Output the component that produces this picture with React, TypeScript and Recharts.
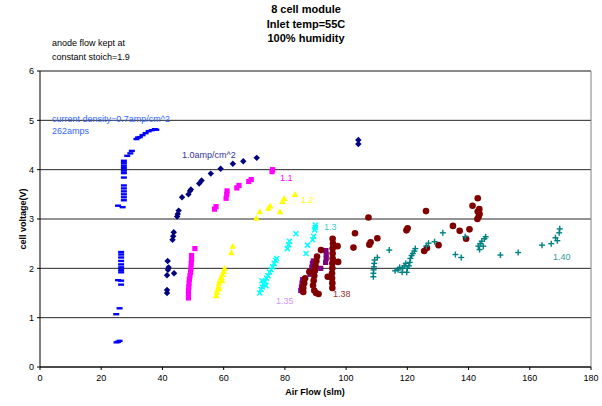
import { ScatterChart, Scatter, XAxis, YAxis, CartesianGrid, ReferenceLine } from 'recharts';

type P = [number, number];

const airFlowTicks = [0, 20, 40, 60, 80, 100, 120, 140, 160, 180];
const voltTicks = [0, 1, 2, 3, 4, 5, 6];

// current density 0.7 amp/cm^2 (262 amps)
const cd070: P[] = [
  [25, 0.5], [25.5, 0.51], [26, 0.53], [24.9, 1.07], [26, 1.19], [25.5, 1.76], [26.5, 1.75], [26.5, 1.67],
  [26.5, 1.92], [26.5, 1.97], [26.5, 2.02], [26.5, 2.08], [26.5, 2.15], [26.5, 2.22], [26.5, 2.28], [26.5, 2.33],
  [25.5, 3.27], [27, 3.24], [27.4, 3.38], [27.4, 3.44], [27.4, 3.5], [27.4, 3.56], [27.4, 3.62], [27.4, 3.68],
  [27.4, 3.84], [27.4, 3.93], [27.4, 3.98], [27.4, 4.03], [27.4, 4.08], [27.4, 4.13], [27.4, 4.18],
  [28.5, 4.28], [29.5, 4.33], [30, 4.38], [31.5, 4.62], [32, 4.65], [32.6, 4.66], [33.5, 4.7], [34.5, 4.74],
  [35.5, 4.78], [36.5, 4.8], [37.5, 4.82], [38, 4.81],
];

const cd100: P[] = [
  [41.5, 1.5], [41.5, 1.56], [41.7, 2.15], [42, 2.02], [41.8, 1.97], [41.5, 1.86], [43.8, 1.9],
  [43.3, 2.58], [43.5, 2.65], [43.7, 2.73], [44.8, 3.05], [45, 3.1], [45.3, 3.17], [46.4, 3.44],
  [48.5, 3.5], [49, 3.57], [49.3, 3.6], [52, 3.72], [52.8, 3.78], [55.8, 3.92], [59, 4.02], [63, 4.12],
  [66.4, 4.17], [70.8, 4.24], [104, 4.52], [104, 4.6],
];

const cd110: P[] = [
  [50.6, 2.4], [49.5, 2.26], [49.5, 2.18], [49.4, 2.1], [49.3, 2.0], [49.2, 1.92], [49, 1.85], [48.8, 1.78],
  [48.7, 1.7], [48.6, 1.62], [48.5, 1.55], [48.5, 1.47], [48.5, 1.4], [57, 3.2], [57.5, 3.25],
  [60.8, 3.42], [61, 3.5], [61.1, 3.57], [64.3, 3.63], [65, 3.68], [68.2, 3.76], [69, 3.8], [75.8, 3.96], [76, 4.0],
];

const cd120: P[] = [
  [57.6, 1.45], [57.8, 1.52], [58, 1.58], [58.3, 1.64], [58.5, 1.7], [58.8, 1.76], [59.2, 1.82], [59.6, 1.88],
  [60, 1.94], [60.3, 2.0], [58.5, 1.6], [59.5, 1.75], [62.5, 2.32], [63, 2.45], [70.7, 3.02], [71.8, 3.15],
  [74.6, 3.22], [75.2, 3.27], [78.4, 3.15], [79.2, 3.36], [79.8, 3.42], [83.3, 3.5],
];

const cd130: P[] = [
  [71.8, 1.5], [72.2, 1.57], [72.6, 1.62], [73, 1.68], [73.5, 1.73], [74, 1.8], [74.5, 1.85], [75, 1.92],
  [75.5, 1.97], [76, 2.03], [76.5, 2.1], [77, 2.16], [77.3, 2.2], [72.5, 1.75], [73.8, 1.65],
  [80.8, 2.4], [81.2, 2.48], [81.5, 2.55], [83.6, 2.7], [86.9, 2.3], [87.4, 2.47], [89.1, 2.58], [89.4, 2.65],
  [89.7, 2.78], [89.9, 2.83], [90, 2.88],
];

const cd135: P[] = [
  [85.2, 1.55], [85.4, 1.62], [85.6, 1.7], [85.8, 1.77], [88.2, 1.88], [88.5, 1.95], [88.8, 2.02], [89, 2.1],
  [89.3, 2.15], [93.3, 2.12], [93.5, 2.2], [93.5, 2.28], [93.4, 2.36], [91.7, 2.0],
];

const cd138: P[] = [
  [86, 1.52], [86, 1.6], [86.3, 1.7], [86.6, 1.8], [88, 1.93], [91, 1.48], [90.2, 1.5], [89.6, 1.55],
  [89.2, 1.65], [89.4, 1.75], [89.6, 1.85], [89.8, 1.95], [90, 2.05], [90.3, 2.15], [90.5, 2.24], [91.8, 2.37],
  [94, 1.83], [95.5, 1.6], [95.5, 1.7], [95.4, 1.8], [95.4, 1.9], [95.5, 2.0], [95.5, 2.1], [95.6, 2.2],
  [95.6, 2.3], [95.6, 2.4], [95.7, 2.5], [95.6, 2.6], [97.2, 2.45], [97.4, 2.13], [102.9, 2.71], [102.4, 2.42],
  [107.3, 3.03], [107.6, 2.48], [108, 2.53], [110.2, 2.61], [119.7, 2.77], [120.1, 2.81], [126.1, 3.16],
  [125.5, 2.35], [126.4, 2.41], [130.2, 2.47], [134.9, 2.86], [137.1, 2.76], [140.3, 2.79], [139.2, 2.6],
  [141.3, 3.27], [143, 3.42], [142.9, 3.0], [143.3, 3.05], [143.6, 3.1], [143, 3.15], [143.5, 3.2],
];

const cd140: P[] = [
  [108.9, 1.83], [108.9, 1.9], [109, 1.97], [109.1, 2.03], [109.2, 2.1], [109.3, 2.17], [110.2, 2.22],
  [114.1, 2.37], [116, 1.95], [117, 1.97], [117.5, 2.02], [118.5, 2.0], [119, 2.05], [119.5, 2.1], [120, 2.0],
  [120.5, 2.05], [120.8, 2.12], [121, 2.2], [121.4, 2.26], [121.8, 2.3], [122.3, 2.35], [122.6, 2.4],
  [119.8, 1.92], [118.3, 1.92], [126.2, 2.45], [126.9, 2.51], [128.9, 2.54], [131.6, 2.72], [135.7, 2.28],
  [137.6, 2.22], [138.9, 2.64], [143.2, 2.45], [143.8, 2.5], [144.3, 2.55], [144.8, 2.45], [145.2, 2.6],
  [145.6, 2.64], [143.6, 2.38], [150.4, 2.27], [156.2, 2.32], [164, 2.47], [167, 2.5], [168.4, 2.62],
  [169, 2.56], [169.6, 2.72], [169.8, 2.8],
];

const toPts = (a: P[]) => a.map(([x, y]) => ({ x, y }));

const font = '"Liberation Sans", Arial, sans-serif';

const Dash = (p: any) => <rect x={p.cx - 3} y={p.cy - 1.2} width={6} height={2.4} fill="#0000FF" />;
const Diamond = (p: any) => (
  <polygon points={`${p.cx},${p.cy - 3.2} ${p.cx + 3.2},${p.cy} ${p.cx},${p.cy + 3.2} ${p.cx - 3.2},${p.cy}`} fill="#000080" />
);
const squareOf = (color: string) => (p: any) => (
  <rect x={p.cx - 2.6} y={p.cy - 2.6} width={5.2} height={5.2} fill={color} />
);
const Triangle = (p: any) => (
  <polygon points={`${p.cx},${p.cy - 3.3} ${p.cx + 3.3},${p.cy + 2.7} ${p.cx - 3.3},${p.cy + 2.7}`} fill="#FFFF00" />
);
const Cross = (p: any) => (
  <g stroke="#00FFFF" strokeWidth={1.5}>
    <line x1={p.cx - 2.5} y1={p.cy - 2.5} x2={p.cx + 2.5} y2={p.cy + 2.5} />
    <line x1={p.cx - 2.5} y1={p.cy + 2.5} x2={p.cx + 2.5} y2={p.cy - 2.5} />
  </g>
);
const Dot = (p: any) => <circle cx={p.cx} cy={p.cy} r={3.3} fill="#800000" />;
const Plus = (p: any) => (
  <g stroke="#008080" strokeWidth={1.4}>
    <line x1={p.cx - 3} y1={p.cy} x2={p.cx + 3} y2={p.cy} />
    <line x1={p.cx} y1={p.cy - 3} x2={p.cx} y2={p.cy + 3} />
  </g>
);

const seriesLabels = [
  { text: 'current density=0.7amp/cm^2', x: 52, y: 114, color: '#3366FF' },
  { text: '262amps', x: 52, y: 126, color: '#3366FF' },
  { text: '1.0amp/cm^2', x: 182, y: 150, color: '#333399' },
  { text: '1.1', x: 280, y: 173, color: '#FF00FF' },
  { text: '1.2', x: 301, y: 195, color: '#FFFF00' },
  { text: '1.3', x: 324, y: 222, color: '#33CCCC' },
  { text: '1.35', x: 276, y: 296, color: '#CC99FF' },
  { text: '1.38', x: 333, y: 289, color: '#993333' },
  { text: '1.40', x: 553, y: 252, color: '#339999' },
];

export default function App() {
  return (
    <div style={{ position: 'absolute', left: 0, top: 0, width: 602, height: 406, background: '#fff', fontFamily: font }}>
      <ScatterChart width={602} height={406} margin={{ top: 71, right: 11, left: 0, bottom: 0 }}>
        <CartesianGrid vertical={false} stroke="#000" strokeOpacity={0.85} />
        <XAxis
          type="number"
          dataKey="x"
          domain={[0, 180]}
          ticks={airFlowTicks}
          height={39}
          tickSize={3}
          tickMargin={5}
          stroke="#000"
          tick={{ fontSize: 9, fill: '#000', fontFamily: font }}
          interval={0}
        />
        <YAxis
          type="number"
          dataKey="y"
          domain={[0, 6]}
          ticks={voltTicks}
          width={40}
          tickSize={3}
          tickMargin={3}
          stroke="#000"
          tick={{ fontSize: 9, fill: '#000', fontFamily: font }}
          interval={0}
        />
        <ReferenceLine y={6} stroke="#808080" />
        <ReferenceLine x={180} stroke="#808080" />
        <Scatter data={toPts(cd070)} shape={Dash} isAnimationActive={false} />
        <Scatter data={toPts(cd100)} shape={Diamond} isAnimationActive={false} />
        <Scatter data={toPts(cd110)} shape={squareOf('#FF00FF')} isAnimationActive={false} />
        <Scatter data={toPts(cd120)} shape={Triangle} isAnimationActive={false} />
        <Scatter data={toPts(cd130)} shape={Cross} isAnimationActive={false} />
        <Scatter data={toPts(cd135)} shape={squareOf('#800080')} isAnimationActive={false} />
        <Scatter data={toPts(cd138)} shape={Dot} isAnimationActive={false} />
        <Scatter data={toPts(cd140)} shape={Plus} isAnimationActive={false} />
      </ScatterChart>

      {/* title */}
      <div style={{ position: 'absolute', left: 206, width: 200, top: 2, textAlign: 'center', fontSize: 11, fontWeight: 'bold', lineHeight: '14.5px' }}>
        <div>8 cell module</div>
        <div>Inlet temp=55C</div>
        <div>100% humidity</div>
      </div>
      <div style={{ position: 'absolute', left: 52, top: 36, fontSize: 9, lineHeight: '14px' }}>
        <div>anode flow kept at</div>
        <div>constant stoich=1.9</div>
      </div>

      {seriesLabels.map((l) => (
        <div key={l.text} style={{ position: 'absolute', left: l.x, top: l.y, fontSize: 9, color: l.color, whiteSpace: 'nowrap' }}>
          {l.text}
        </div>
      ))}

      {/* axis titles */}
      <div style={{ position: 'absolute', left: 215, width: 200, top: 387, textAlign: 'center', fontSize: 9, fontWeight: 'bold' }}>
        Air Flow (slm)
      </div>
      <div
        style={{
          position: 'absolute', left: 23, top: 219, fontSize: 9, fontWeight: 'bold', whiteSpace: 'nowrap',
          transform: 'translate(-50%, -50%) rotate(-90deg)',
        }}
      >
        cell voltage(V)
      </div>
    </div>
  );
}
